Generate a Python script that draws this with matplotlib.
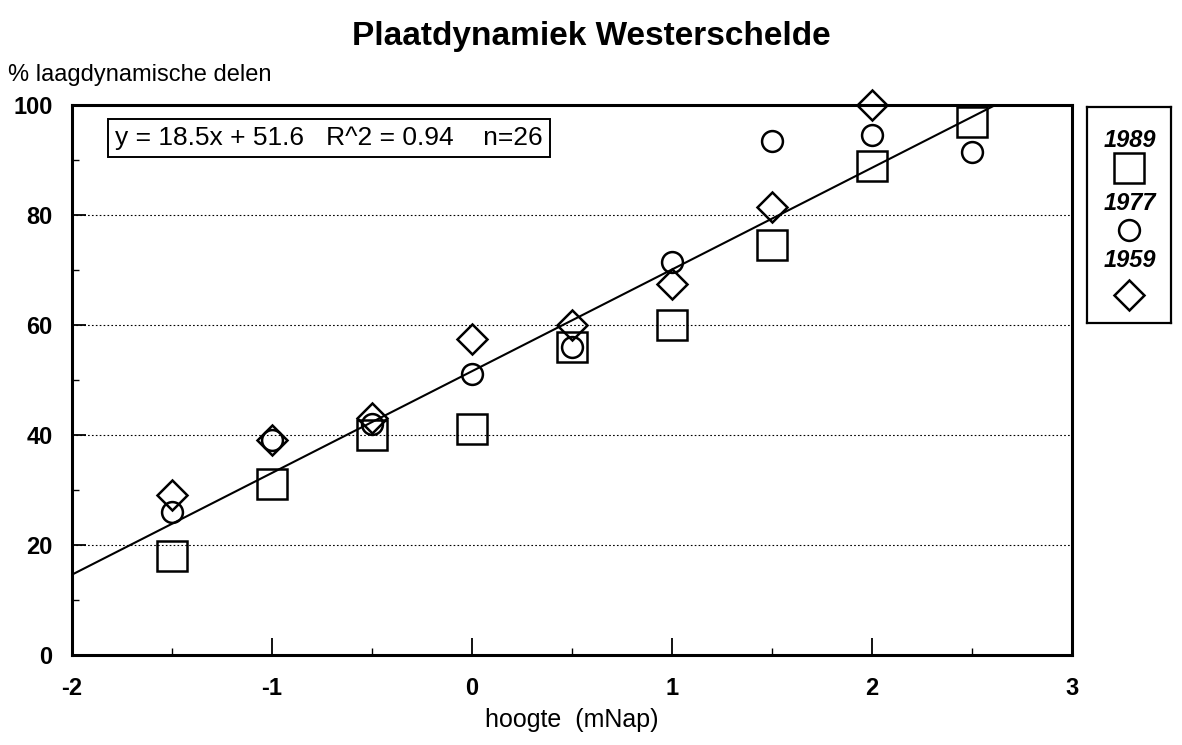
import numpy as np
import matplotlib.pyplot as plt

plt.rcParams['font.family'] = ['Liberation Sans', 'DejaVu Sans']
plt.rcParams['axes.unicode_minus'] = False

# Data
x_1989 = [-1.5, -1.0, -0.5, 0.0, 0.5, 1.0, 1.5, 2.0, 2.5]
y_1989 = [18, 31, 40, 41, 56, 60, 74.5, 89, 97]

x_1977 = [-1.5, -1.0, -0.5, 0.0, 0.5, 1.0, 1.5, 2.0, 2.5]
y_1977 = [26, 39, 42, 51, 56, 71.5, 93.5, 94.5, 91.5]

x_1959 = [-1.5, -1.0, -0.5, 0.0, 0.5, 1.0, 1.5, 2.0]
y_1959 = [29, 39, 43, 57.5, 60, 67.5, 81.5, 100]

slope = 18.5
intercept = 51.6

fig = plt.figure(figsize=(11.82, 7.45), dpi=100)
ax = fig.add_axes([0.061, 0.121, 0.846, 0.738])

mk = dict(linestyle='none', markerfacecolor='none', markeredgecolor='black',
          markeredgewidth=1.8, clip_on=False)
ax.plot(x_1989, y_1989, marker='s', markersize=22, **mk)
ax.plot(x_1977, y_1977, marker='o', markersize=15, **mk)
ax.plot(x_1959, y_1959, marker='D', markersize=15, **mk)

# regression line
xl = np.array([-2.0, (100 - intercept) / slope])
ax.plot(xl, slope * xl + intercept, color='black', linewidth=1.5)

ax.set_xlim(-2, 3)
ax.set_ylim(0, 100)
ax.set_xticks([-2, -1, 0, 1, 2, 3])
ax.set_yticks([0, 20, 40, 60, 80, 100])
ax.set_xticks(np.arange(-1.5, 3, 1.0), minor=True)
ax.set_yticks(np.arange(10, 100, 20), minor=True)
ax.tick_params(axis='x', which='major', direction='in', length=12, width=1.3,
               labelsize=17, pad=16)
ax.tick_params(axis='y', which='major', direction='in', length=10, width=1.3,
               labelsize=17, pad=14)
ax.tick_params(axis='both', which='minor', direction='in', length=5, width=1)
for lab in ax.get_xticklabels() + ax.get_yticklabels():
    lab.set_fontweight('bold')
for s in ax.spines.values():
    s.set_linewidth(2.2)

ax.grid(axis='y', which='major', linestyle=(0, (1.5, 2)), color='black', linewidth=0.8)
ax.set_axisbelow(True)

ax.text(0.043, 0.94, 'y = 18.5x + 51.6   R^2 = 0.94    n=26', transform=ax.transAxes,
        fontsize=19, va='center', ha='left',
        bbox=dict(boxstyle='square,pad=0.28', facecolor='white', edgecolor='black', linewidth=1.4))

ax.set_xlabel('hoogte  (mNap)', fontsize=18, labelpad=6)
fig.text(0.007, 0.9, '% laagdynamische delen', fontsize=17, ha='left', va='center')
fig.suptitle('Plaatdynamiek Westerschelde', fontsize=24, fontweight='bold', y=0.972)

# legend panel
lg = fig.add_axes([0.92, 0.566, 0.071, 0.291])
lg.set_xlim(0, 1)
lg.set_ylim(0, 1)
lg.set_xticks([])
lg.set_yticks([])
for s in lg.spines.values():
    s.set_linewidth(1.6)
labels = ['1989', '1977', '1959']
markers = [('s', 22), ('o', 15), ('D', 15)]
text_y = [0.845, 0.555, 0.29]
mark_y = [0.715, 0.43, 0.131]
for lab, (m, ms), ty, my in zip(labels, markers, text_y, mark_y):
    lg.text(0.5, ty, lab, fontsize=17, fontweight='bold', style='italic',
            ha='center', va='center')
    lg.plot([0.5], [my], marker=m, markersize=ms, **mk)

fig.savefig('out.png', dpi=100)
